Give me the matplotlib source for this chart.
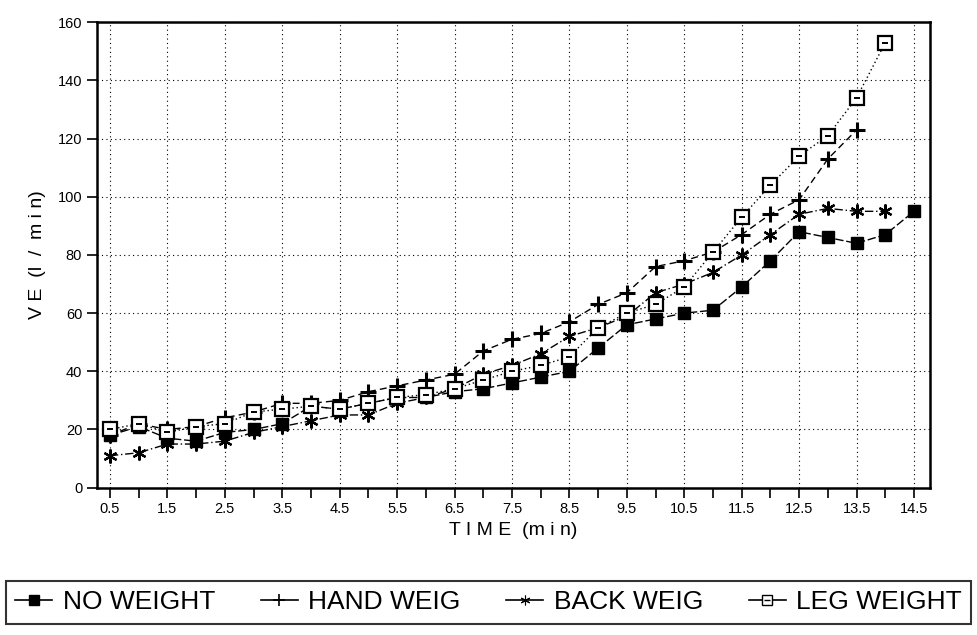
import numpy as np
import matplotlib
matplotlib.use("Agg")
import matplotlib.pyplot as plt
from matplotlib.lines import Line2D

plt.rcParams['font.family'] = ['Liberation Sans', 'DejaVu Sans']

# time points (min)
time = [0.5, 1.0, 1.5, 2.0, 2.5, 3.0, 3.5, 4.0, 4.5, 5.0, 5.5, 6.0, 6.5, 7.0, 7.5,
        8.0, 8.5, 9.0, 9.5, 10.0, 10.5, 11.0, 11.5, 12.0, 12.5, 13.0, 13.5, 14.0, 14.5]

no_weight = [18, 21, 17, 16, 19, 20, 22, 28, 27, 29, 31, 31, 33, 34, 36,
             38, 40, 48, 56, 58, 60, 61, 69, 78, 88, 86, 84, 87, 95]
hand_weig = [18, 22, 20, 21, 24, 26, 29, 29, 30, 33, 35, 37, 39, 47, 51,
             53, 57, 63, 67, 76, 78, 81, 87, 94, 99, 113, 123]
back_weig = [11, 12, 15, 15, 16, 19, 21, 23, 25, 25, 29, 31, 34, 39, 42,
             46, 52, 55, 59, 67, 70, 74, 80, 87, 94, 96, 95, 95]
leg_weight = [20, 22, 19, 21, 22, 26, 27, 28, 27, 29, 31, 32, 34, 37, 40,
              42, 45, 55, 60, 63, 69, 81, 93, 104, 114, 121, 134, 153]

names = ["NO WEIGHT", "HAND WEIG", "BACK WEIG", "LEG WEIGHT"]
x_ticks = [0.5, 1.5, 2.5, 3.5, 4.5, 5.5, 6.5, 7.5, 8.5, 9.5, 10.5, 11.5, 12.5, 13.5, 14.5]
y_ticks = [0, 20, 40, 60, 80, 100, 120, 140, 160]

fig = plt.figure(figsize=(9.77, 6.35), dpi=100)
ax = fig.add_axes([0.099, 0.232, 0.853, 0.733])

def t(n):
    return time[:n]

ax.plot(t(len(no_weight)), no_weight, color='black', lw=1.0, ls=(0, (6, 2)),
        marker='s', ms=8, mfc='black', mec='black')
ax.plot(t(len(hand_weig)), hand_weig, color='black', lw=1.0, ls=(0, (5, 3)),
        marker='+', ms=12, mew=2.2)
ax.plot(t(len(back_weig)), back_weig, color='black', lw=1.0, ls=(0, (6, 2, 1, 2)),
        marker=(6, 2, 0), ms=10, mew=1.6)
ax.plot(t(len(leg_weight)), leg_weight, color='black', lw=1.0, ls=(0, (1, 2)),
        marker='s', ms=10, mfc='white', mec='black', mew=1.6)
ax.plot(t(len(leg_weight)), leg_weight, ls='none', color='black',
        marker='_', ms=5, mew=1.4)

ax.set_xlim(0.27, 14.78)
ax.set_ylim(0, 160)
ax.set_xticks(x_ticks)
ax.set_xticklabels([f"{v:g}" for v in x_ticks], fontsize=10.5)
ax.set_xticks(np.arange(1.0, 14.6, 1.0), minor=True)
ax.set_yticks(y_ticks)
ax.set_yticklabels([str(v) for v in y_ticks], fontsize=10.5)
ax.tick_params(which='both', direction='out', length=7, width=1.2, color='black')
ax.grid(True, which='major', color='black', ls=(0, (1, 3)), lw=0.8)

for s in ax.spines.values():
    s.set_linewidth(1.8)

ax.set_xlabel("T I M E  (m i n)", fontsize=14, labelpad=4)
ax.set_ylabel("V E  (l  /  m i n)", fontsize=14, labelpad=8)

# legend handles: solid line with small marker
p1 = Line2D([], [], color='black', lw=1.2, marker='s', ms=7, mfc='black')
p2 = Line2D([], [], color='black', lw=1.2, marker='+', ms=9, mew=1.2)
p3 = Line2D([], [], color='black', lw=1.2, marker=(6, 2, 0), ms=7, mew=0.8)
p4a = Line2D([], [], color='black', lw=1.2, marker='s', ms=7, mfc='white', mew=1.0)
p4b = Line2D([], [], ls='none', color='black', marker='_', ms=4, mew=1.0)

leg = fig.legend([p1, p2, p3, (p4a, p4b)], names,
                 loc='lower left', bbox_to_anchor=(0.006, 0.018, 0.988, 0.075),
                 mode='expand', ncol=4, fontsize=19, frameon=True, fancybox=False,
                 edgecolor='black', handlelength=1.4, handletextpad=0.4,
                 borderaxespad=0.0, borderpad=0.35)
leg.get_frame().set_linewidth(1.5)

fig.savefig("out.png", dpi=100)
